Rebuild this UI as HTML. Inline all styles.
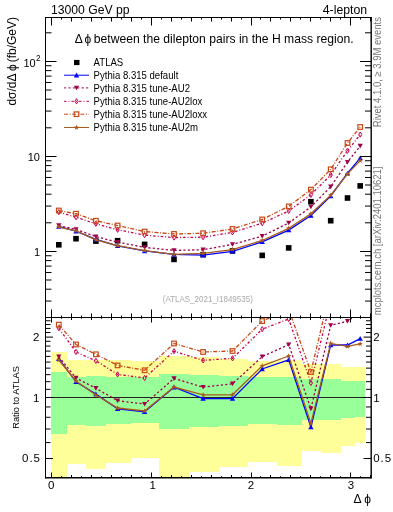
<!DOCTYPE html><html><head><meta charset="utf-8"><style>html,body{margin:0;padding:0;background:#fff;overflow:hidden}svg{display:block;will-change:transform}text{font-family:"Liberation Sans",sans-serif}</style></head><body>
<svg width="393" height="512" viewBox="0 0 393 512">
<defs><clipPath id="ct"><rect x="45.5" y="17.5" width="325" height="300"/></clipPath><clipPath id="cb"><rect x="45.5" y="317.5" width="325" height="160"/></clipPath></defs>
<g clip-path="url(#cb)" shape-rendering="crispEdges"><rect x="51.20" y="352.30" width="15.50" height="127.70" fill="#ffff99"/><rect x="66.70" y="360.20" width="19.50" height="103.60" fill="#ffff99"/><rect x="86.20" y="359.80" width="19.50" height="108.90" fill="#ffff99"/><rect x="105.70" y="360.20" width="24.90" height="102.50" fill="#ffff99"/><rect x="130.60" y="361.40" width="28.10" height="96.70" fill="#ffff99"/><rect x="158.70" y="355.70" width="30.50" height="124.30" fill="#ffff99"/><rect x="189.20" y="356.50" width="29.50" height="115.50" fill="#ffff99"/><rect x="218.70" y="358.70" width="29.30" height="108.10" fill="#ffff99"/><rect x="248.00" y="360.80" width="28.50" height="100.90" fill="#ffff99"/><rect x="276.50" y="359.50" width="25.50" height="106.30" fill="#ffff99"/><rect x="302.00" y="364.00" width="18.50" height="87.00" fill="#ffff99"/><rect x="320.50" y="364.00" width="20.20" height="88.50" fill="#ffff99"/><rect x="340.70" y="367.30" width="14.60" height="78.50" fill="#ffff99"/><rect x="355.30" y="367.30" width="9.90" height="75.80" fill="#ffff99"/><rect x="51.20" y="371.60" width="15.50" height="62.40" fill="#99ff99"/><rect x="66.70" y="376.60" width="19.50" height="48.80" fill="#99ff99"/><rect x="86.20" y="376.00" width="19.50" height="50.10" fill="#99ff99"/><rect x="105.70" y="377.00" width="24.90" height="47.30" fill="#99ff99"/><rect x="130.60" y="377.00" width="28.10" height="46.10" fill="#99ff99"/><rect x="158.70" y="374.00" width="30.50" height="55.20" fill="#99ff99"/><rect x="189.20" y="375.00" width="29.50" height="52.30" fill="#99ff99"/><rect x="218.70" y="376.00" width="29.30" height="49.50" fill="#99ff99"/><rect x="248.00" y="377.00" width="28.50" height="46.50" fill="#99ff99"/><rect x="276.50" y="377.40" width="25.50" height="47.50" fill="#99ff99"/><rect x="302.00" y="378.60" width="18.50" height="41.80" fill="#99ff99"/><rect x="320.50" y="378.60" width="20.20" height="40.90" fill="#99ff99"/><rect x="340.70" y="380.75" width="14.60" height="37.45" fill="#99ff99"/><rect x="355.30" y="380.75" width="9.90" height="36.55" fill="#99ff99"/></g>
<line x1="45" y1="397.5" x2="371" y2="397.5" stroke="#222" stroke-width="1"/>
<g clip-path="url(#ct)"><rect x="56.00" y="242.00" width="5.6" height="5.6" fill="#000"/><rect x="73.20" y="235.90" width="5.6" height="5.6" fill="#000"/><rect x="93.10" y="238.30" width="5.6" height="5.6" fill="#000"/><rect x="114.80" y="237.90" width="5.6" height="5.6" fill="#000"/><rect x="141.80" y="241.60" width="5.6" height="5.6" fill="#000"/><rect x="171.20" y="256.60" width="5.6" height="5.6" fill="#000"/><rect x="200.30" y="251.90" width="5.6" height="5.6" fill="#000"/><rect x="229.70" y="248.10" width="5.6" height="5.6" fill="#000"/><rect x="259.40" y="252.60" width="5.6" height="5.6" fill="#000"/><rect x="285.90" y="245.10" width="5.6" height="5.6" fill="#000"/><rect x="308.10" y="198.90" width="5.6" height="5.6" fill="#000"/><rect x="327.90" y="217.90" width="5.6" height="5.6" fill="#000"/><rect x="344.70" y="195.20" width="5.6" height="5.6" fill="#000"/><rect x="357.40" y="183.10" width="5.6" height="5.6" fill="#000"/><polyline points="58.80,226.49 76.00,231.23 95.90,239.36 117.60,245.91 144.60,250.97 174.00,254.47 203.10,255.12 232.50,251.32 262.20,241.92 288.70,230.10 310.90,215.51 330.70,195.95 347.50,173.25 360.20,158.15" fill="none" stroke="#0000ff" stroke-width="1.3"/><path d="M56.10 228.69L58.80 223.89L61.50 228.69Z" fill="#0000ff"/><path d="M73.30 233.43L76.00 228.63L78.70 233.43Z" fill="#0000ff"/><path d="M93.20 241.56L95.90 236.76L98.60 241.56Z" fill="#0000ff"/><path d="M114.90 248.11L117.60 243.31L120.30 248.11Z" fill="#0000ff"/><path d="M141.90 253.17L144.60 248.37L147.30 253.17Z" fill="#0000ff"/><path d="M171.30 256.67L174.00 251.87L176.70 256.67Z" fill="#0000ff"/><path d="M200.40 257.32L203.10 252.52L205.80 257.32Z" fill="#0000ff"/><path d="M229.80 253.52L232.50 248.72L235.20 253.52Z" fill="#0000ff"/><path d="M259.50 244.12L262.20 239.32L264.90 244.12Z" fill="#0000ff"/><path d="M286.00 232.30L288.70 227.50L291.40 232.30Z" fill="#0000ff"/><path d="M308.20 217.71L310.90 212.91L313.60 217.71Z" fill="#0000ff"/><path d="M328.00 198.15L330.70 193.35L333.40 198.15Z" fill="#0000ff"/><path d="M344.80 175.45L347.50 170.65L350.20 175.45Z" fill="#0000ff"/><path d="M357.50 160.35L360.20 155.55L362.90 160.35Z" fill="#0000ff"/><polyline points="58.80,225.55 76.00,229.45 95.90,236.69 117.60,242.11 144.60,247.41 174.00,250.38 203.10,249.77 232.50,244.37 262.20,236.15 288.70,222.96 310.90,206.91 330.70,186.75 347.50,162.08 360.20,146.00" fill="none" stroke="#a0004a" stroke-width="1.3" stroke-dasharray="2.2 2.2"/><path d="M56.20 223.35L58.80 227.95L61.40 223.35Z" fill="#a0004a"/><path d="M73.40 227.25L76.00 231.85L78.60 227.25Z" fill="#a0004a"/><path d="M93.30 234.49L95.90 239.09L98.50 234.49Z" fill="#a0004a"/><path d="M115.00 239.91L117.60 244.51L120.20 239.91Z" fill="#a0004a"/><path d="M142.00 245.21L144.60 249.81L147.20 245.21Z" fill="#a0004a"/><path d="M171.40 248.18L174.00 252.78L176.60 248.18Z" fill="#a0004a"/><path d="M200.50 247.57L203.10 252.17L205.70 247.57Z" fill="#a0004a"/><path d="M229.90 242.17L232.50 246.77L235.10 242.17Z" fill="#a0004a"/><path d="M259.60 233.95L262.20 238.55L264.80 233.95Z" fill="#a0004a"/><path d="M286.10 220.76L288.70 225.36L291.30 220.76Z" fill="#a0004a"/><path d="M308.30 204.71L310.90 209.31L313.50 204.71Z" fill="#a0004a"/><path d="M328.10 184.55L330.70 189.15L333.30 184.55Z" fill="#a0004a"/><path d="M344.90 159.88L347.50 164.48L350.10 159.88Z" fill="#a0004a"/><path d="M357.60 143.80L360.20 148.40L362.80 143.80Z" fill="#a0004a"/><polyline points="58.80,212.16 76.00,217.24 95.90,223.77 117.60,229.76 144.60,235.15 174.00,237.56 203.10,237.18 232.50,232.40 262.20,223.23 288.70,210.94 310.90,194.80 330.70,175.00 347.50,150.80 360.20,134.60" fill="none" stroke="#c80050" stroke-width="1.3" stroke-dasharray="2.5 2 1 2"/><path d="M58.80 209.56L60.40 212.16L58.80 214.76L57.20 212.16Z" fill="none" stroke="#c80050" stroke-width="1.0"/><path d="M76.00 214.64L77.60 217.24L76.00 219.84L74.40 217.24Z" fill="none" stroke="#c80050" stroke-width="1.0"/><path d="M95.90 221.17L97.50 223.77L95.90 226.37L94.30 223.77Z" fill="none" stroke="#c80050" stroke-width="1.0"/><path d="M117.60 227.16L119.20 229.76L117.60 232.36L116.00 229.76Z" fill="none" stroke="#c80050" stroke-width="1.0"/><path d="M144.60 232.55L146.20 235.15L144.60 237.75L143.00 235.15Z" fill="none" stroke="#c80050" stroke-width="1.0"/><path d="M174.00 234.96L175.60 237.56L174.00 240.16L172.40 237.56Z" fill="none" stroke="#c80050" stroke-width="1.0"/><path d="M203.10 234.58L204.70 237.18L203.10 239.78L201.50 237.18Z" fill="none" stroke="#c80050" stroke-width="1.0"/><path d="M232.50 229.80L234.10 232.40L232.50 235.00L230.90 232.40Z" fill="none" stroke="#c80050" stroke-width="1.0"/><path d="M262.20 220.63L263.80 223.23L262.20 225.83L260.60 223.23Z" fill="none" stroke="#c80050" stroke-width="1.0"/><path d="M288.70 208.34L290.30 210.94L288.70 213.54L287.10 210.94Z" fill="none" stroke="#c80050" stroke-width="1.0"/><path d="M310.90 192.20L312.50 194.80L310.90 197.40L309.30 194.80Z" fill="none" stroke="#c80050" stroke-width="1.0"/><path d="M330.70 172.40L332.30 175.00L330.70 177.60L329.10 175.00Z" fill="none" stroke="#c80050" stroke-width="1.0"/><path d="M347.50 148.20L349.10 150.80L347.50 153.40L345.90 150.80Z" fill="none" stroke="#c80050" stroke-width="1.0"/><path d="M360.20 132.00L361.80 134.60L360.20 137.20L358.60 134.60Z" fill="none" stroke="#c80050" stroke-width="1.0"/><polyline points="58.80,210.52 76.00,213.72 95.90,220.72 117.60,225.53 144.60,231.53 174.00,233.95 203.10,233.24 232.50,228.97 262.20,219.43 288.70,206.40 310.90,189.63 330.70,169.30 347.50,143.00 360.20,127.00" fill="none" stroke="#c84816" stroke-width="1.3" stroke-dasharray="4 1.6 1 1.6"/><rect x="56.50" y="208.22" width="4.6" height="4.6" fill="none" stroke="#c84816" stroke-width="1.2"/><rect x="73.70" y="211.42" width="4.6" height="4.6" fill="none" stroke="#c84816" stroke-width="1.2"/><rect x="93.60" y="218.42" width="4.6" height="4.6" fill="none" stroke="#c84816" stroke-width="1.2"/><rect x="115.30" y="223.23" width="4.6" height="4.6" fill="none" stroke="#c84816" stroke-width="1.2"/><rect x="142.30" y="229.23" width="4.6" height="4.6" fill="none" stroke="#c84816" stroke-width="1.2"/><rect x="171.70" y="231.65" width="4.6" height="4.6" fill="none" stroke="#c84816" stroke-width="1.2"/><rect x="200.80" y="230.94" width="4.6" height="4.6" fill="none" stroke="#c84816" stroke-width="1.2"/><rect x="230.20" y="226.67" width="4.6" height="4.6" fill="none" stroke="#c84816" stroke-width="1.2"/><rect x="259.90" y="217.13" width="4.6" height="4.6" fill="none" stroke="#c84816" stroke-width="1.2"/><rect x="286.40" y="204.10" width="4.6" height="4.6" fill="none" stroke="#c84816" stroke-width="1.2"/><rect x="308.60" y="187.33" width="4.6" height="4.6" fill="none" stroke="#c84816" stroke-width="1.2"/><rect x="328.40" y="167.00" width="4.6" height="4.6" fill="none" stroke="#c84816" stroke-width="1.2"/><rect x="345.20" y="140.70" width="4.6" height="4.6" fill="none" stroke="#c84816" stroke-width="1.2"/><rect x="357.90" y="124.70" width="4.6" height="4.6" fill="none" stroke="#c84816" stroke-width="1.2"/><polyline points="58.80,227.10 76.00,230.86 95.90,239.83 117.60,245.54 144.60,250.65 174.00,254.38 203.10,253.34 232.50,249.54 262.20,240.47 288.70,228.32 310.90,213.82 330.70,195.20 347.50,173.91 360.20,160.64" fill="none" stroke="#a85c1c" stroke-width="1.3"/><path d="M58.80 224.30L59.51 226.13L61.46 226.23L59.94 227.47L60.45 229.36L58.80 228.30L57.15 229.36L57.66 227.47L56.14 226.23L58.09 226.13Z" fill="#a85c1c"/><path d="M76.00 228.06L76.71 229.89L78.66 229.99L77.14 231.23L77.65 233.12L76.00 232.06L74.35 233.12L74.86 231.23L73.34 229.99L75.29 229.89Z" fill="#a85c1c"/><path d="M95.90 237.03L96.61 238.86L98.56 238.97L97.04 240.20L97.55 242.10L95.90 241.03L94.25 242.10L94.76 240.20L93.24 238.97L95.19 238.86Z" fill="#a85c1c"/><path d="M117.60 242.74L118.31 244.57L120.26 244.67L118.74 245.91L119.25 247.80L117.60 246.74L115.95 247.80L116.46 245.91L114.94 244.67L116.89 244.57Z" fill="#a85c1c"/><path d="M144.60 247.85L145.31 249.67L147.26 249.78L145.74 251.02L146.25 252.91L144.60 251.85L142.95 252.91L143.46 251.02L141.94 249.78L143.89 249.67Z" fill="#a85c1c"/><path d="M174.00 251.58L174.71 253.40L176.66 253.51L175.14 254.75L175.65 256.64L174.00 255.58L172.35 256.64L172.86 254.75L171.34 253.51L173.29 253.40Z" fill="#a85c1c"/><path d="M203.10 250.54L203.81 252.37L205.76 252.47L204.24 253.71L204.75 255.60L203.10 254.54L201.45 255.60L201.96 253.71L200.44 252.47L202.39 252.37Z" fill="#a85c1c"/><path d="M232.50 246.74L233.21 248.57L235.16 248.67L233.64 249.91L234.15 251.80L232.50 250.74L230.85 251.80L231.36 249.91L229.84 248.67L231.79 248.57Z" fill="#a85c1c"/><path d="M262.20 237.67L262.91 239.50L264.86 239.60L263.34 240.84L263.85 242.73L262.20 241.67L260.55 242.73L261.06 240.84L259.54 239.60L261.49 239.50Z" fill="#a85c1c"/><path d="M288.70 225.52L289.41 227.35L291.36 227.45L289.84 228.69L290.35 230.58L288.70 229.52L287.05 230.58L287.56 228.69L286.04 227.45L287.99 227.35Z" fill="#a85c1c"/><path d="M310.90 211.02L311.61 212.84L313.56 212.95L312.04 214.19L312.55 216.08L310.90 215.02L309.25 216.08L309.76 214.19L308.24 212.95L310.19 212.84Z" fill="#a85c1c"/><path d="M330.70 192.40L331.41 194.23L333.36 194.34L331.84 195.57L332.35 197.47L330.70 196.40L329.05 197.47L329.56 195.57L328.04 194.34L329.99 194.23Z" fill="#a85c1c"/><path d="M347.50 171.11L348.21 172.94L350.16 173.04L348.64 174.28L349.15 176.18L347.50 175.11L345.85 176.18L346.36 174.28L344.84 173.04L346.79 172.94Z" fill="#a85c1c"/><path d="M360.20 157.84L360.91 159.67L362.86 159.77L361.34 161.01L361.85 162.90L360.20 161.84L358.55 162.90L359.06 161.01L357.54 159.77L359.49 159.67Z" fill="#a85c1c"/></g>
<g clip-path="url(#cb)"><polyline points="58.80,358.70 76.00,381.80 95.90,394.00 117.60,408.80 144.60,411.70 174.00,387.20 203.10,398.60 232.50,398.60 262.20,369.00 288.70,359.80 310.90,427.10 330.70,345.00 347.50,345.00 360.20,338.60" fill="none" stroke="#0000ff" stroke-width="1.3"/><path d="M56.10 360.90L58.80 356.10L61.50 360.90Z" fill="#0000ff"/><path d="M73.30 384.00L76.00 379.20L78.70 384.00Z" fill="#0000ff"/><path d="M93.20 396.20L95.90 391.40L98.60 396.20Z" fill="#0000ff"/><path d="M114.90 411.00L117.60 406.20L120.30 411.00Z" fill="#0000ff"/><path d="M141.90 413.90L144.60 409.10L147.30 413.90Z" fill="#0000ff"/><path d="M171.30 389.40L174.00 384.60L176.70 389.40Z" fill="#0000ff"/><path d="M200.40 400.80L203.10 396.00L205.80 400.80Z" fill="#0000ff"/><path d="M229.80 400.80L232.50 396.00L235.20 400.80Z" fill="#0000ff"/><path d="M259.50 371.20L262.20 366.40L264.90 371.20Z" fill="#0000ff"/><path d="M286.00 362.00L288.70 357.20L291.40 362.00Z" fill="#0000ff"/><path d="M308.20 429.30L310.90 424.50L313.60 429.30Z" fill="#0000ff"/><path d="M328.00 347.20L330.70 342.40L333.40 347.20Z" fill="#0000ff"/><path d="M344.80 347.20L347.50 342.40L350.20 347.20Z" fill="#0000ff"/><path d="M357.50 340.80L360.20 336.00L362.90 340.80Z" fill="#0000ff"/><polyline points="58.80,356.70 76.00,378.00 95.90,388.30 117.60,400.70 144.60,404.10 174.00,378.50 203.10,387.20 232.50,383.80 262.20,356.70 288.70,344.60 310.90,408.80 330.70,325.40 347.50,321.20 360.20,312.73" fill="none" stroke="#a0004a" stroke-width="1.3" stroke-dasharray="2.2 2.2"/><path d="M56.20 354.50L58.80 359.10L61.40 354.50Z" fill="#a0004a"/><path d="M73.40 375.80L76.00 380.40L78.60 375.80Z" fill="#a0004a"/><path d="M93.30 386.10L95.90 390.70L98.50 386.10Z" fill="#a0004a"/><path d="M115.00 398.50L117.60 403.10L120.20 398.50Z" fill="#a0004a"/><path d="M142.00 401.90L144.60 406.50L147.20 401.90Z" fill="#a0004a"/><path d="M171.40 376.30L174.00 380.90L176.60 376.30Z" fill="#a0004a"/><path d="M200.50 385.00L203.10 389.60L205.70 385.00Z" fill="#a0004a"/><path d="M229.90 381.60L232.50 386.20L235.10 381.60Z" fill="#a0004a"/><path d="M259.60 354.50L262.20 359.10L264.80 354.50Z" fill="#a0004a"/><path d="M286.10 342.40L288.70 347.00L291.30 342.40Z" fill="#a0004a"/><path d="M308.30 406.60L310.90 411.20L313.50 406.60Z" fill="#a0004a"/><path d="M328.10 323.20L330.70 327.80L333.30 323.20Z" fill="#a0004a"/><path d="M344.90 319.00L347.50 323.60L350.10 319.00Z" fill="#a0004a"/><path d="M357.60 310.53L360.20 315.13L362.80 310.53Z" fill="#a0004a"/><polyline points="58.80,328.20 76.00,352.00 95.90,360.80 117.60,374.40 144.60,378.00 174.00,351.20 203.10,360.40 232.50,358.30 262.20,329.20 288.70,319.00 310.90,383.00 330.70,300.38 347.50,297.19 360.20,288.46" fill="none" stroke="#c80050" stroke-width="1.3" stroke-dasharray="2.5 2 1 2"/><path d="M58.80 325.60L60.40 328.20L58.80 330.80L57.20 328.20Z" fill="none" stroke="#c80050" stroke-width="1.0"/><path d="M76.00 349.40L77.60 352.00L76.00 354.60L74.40 352.00Z" fill="none" stroke="#c80050" stroke-width="1.0"/><path d="M95.90 358.20L97.50 360.80L95.90 363.40L94.30 360.80Z" fill="none" stroke="#c80050" stroke-width="1.0"/><path d="M117.60 371.80L119.20 374.40L117.60 377.00L116.00 374.40Z" fill="none" stroke="#c80050" stroke-width="1.0"/><path d="M144.60 375.40L146.20 378.00L144.60 380.60L143.00 378.00Z" fill="none" stroke="#c80050" stroke-width="1.0"/><path d="M174.00 348.60L175.60 351.20L174.00 353.80L172.40 351.20Z" fill="none" stroke="#c80050" stroke-width="1.0"/><path d="M203.10 357.80L204.70 360.40L203.10 363.00L201.50 360.40Z" fill="none" stroke="#c80050" stroke-width="1.0"/><path d="M232.50 355.70L234.10 358.30L232.50 360.90L230.90 358.30Z" fill="none" stroke="#c80050" stroke-width="1.0"/><path d="M262.20 326.60L263.80 329.20L262.20 331.80L260.60 329.20Z" fill="none" stroke="#c80050" stroke-width="1.0"/><path d="M288.70 316.40L290.30 319.00L288.70 321.60L287.10 319.00Z" fill="none" stroke="#c80050" stroke-width="1.0"/><path d="M310.90 380.40L312.50 383.00L310.90 385.60L309.30 383.00Z" fill="none" stroke="#c80050" stroke-width="1.0"/><path d="M330.70 297.78L332.30 300.38L330.70 302.98L329.10 300.38Z" fill="none" stroke="#c80050" stroke-width="1.0"/><path d="M347.50 294.59L349.10 297.19L347.50 299.79L345.90 297.19Z" fill="none" stroke="#c80050" stroke-width="1.0"/><path d="M360.20 285.86L361.80 288.46L360.20 291.06L358.60 288.46Z" fill="none" stroke="#c80050" stroke-width="1.0"/><polyline points="58.80,324.70 76.00,344.50 95.90,354.30 117.60,365.40 144.60,370.30 174.00,343.50 203.10,352.00 232.50,351.00 262.20,321.10 288.70,309.32 310.90,372.00 330.70,288.24 347.50,280.58 360.20,272.27" fill="none" stroke="#c84816" stroke-width="1.3" stroke-dasharray="4 1.6 1 1.6"/><rect x="56.50" y="322.40" width="4.6" height="4.6" fill="none" stroke="#c84816" stroke-width="1.2"/><rect x="73.70" y="342.20" width="4.6" height="4.6" fill="none" stroke="#c84816" stroke-width="1.2"/><rect x="93.60" y="352.00" width="4.6" height="4.6" fill="none" stroke="#c84816" stroke-width="1.2"/><rect x="115.30" y="363.10" width="4.6" height="4.6" fill="none" stroke="#c84816" stroke-width="1.2"/><rect x="142.30" y="368.00" width="4.6" height="4.6" fill="none" stroke="#c84816" stroke-width="1.2"/><rect x="171.70" y="341.20" width="4.6" height="4.6" fill="none" stroke="#c84816" stroke-width="1.2"/><rect x="200.80" y="349.70" width="4.6" height="4.6" fill="none" stroke="#c84816" stroke-width="1.2"/><rect x="230.20" y="348.70" width="4.6" height="4.6" fill="none" stroke="#c84816" stroke-width="1.2"/><rect x="259.90" y="318.80" width="4.6" height="4.6" fill="none" stroke="#c84816" stroke-width="1.2"/><rect x="286.40" y="307.02" width="4.6" height="4.6" fill="none" stroke="#c84816" stroke-width="1.2"/><rect x="308.60" y="369.70" width="4.6" height="4.6" fill="none" stroke="#c84816" stroke-width="1.2"/><rect x="328.40" y="285.94" width="4.6" height="4.6" fill="none" stroke="#c84816" stroke-width="1.2"/><rect x="345.20" y="278.28" width="4.6" height="4.6" fill="none" stroke="#c84816" stroke-width="1.2"/><rect x="357.90" y="269.97" width="4.6" height="4.6" fill="none" stroke="#c84816" stroke-width="1.2"/><polyline points="58.80,360.00 76.00,381.00 95.90,395.00 117.60,408.00 144.60,411.00 174.00,387.00 203.10,394.80 232.50,394.80 262.20,365.90 288.70,356.00 310.90,423.50 330.70,343.40 347.50,346.40 360.20,343.90" fill="none" stroke="#a85c1c" stroke-width="1.3"/><path d="M58.80 357.20L59.51 359.03L61.46 359.13L59.94 360.37L60.45 362.27L58.80 361.20L57.15 362.27L57.66 360.37L56.14 359.13L58.09 359.03Z" fill="#a85c1c"/><path d="M76.00 378.20L76.71 380.03L78.66 380.13L77.14 381.37L77.65 383.27L76.00 382.20L74.35 383.27L74.86 381.37L73.34 380.13L75.29 380.03Z" fill="#a85c1c"/><path d="M95.90 392.20L96.61 394.03L98.56 394.13L97.04 395.37L97.55 397.27L95.90 396.20L94.25 397.27L94.76 395.37L93.24 394.13L95.19 394.03Z" fill="#a85c1c"/><path d="M117.60 405.20L118.31 407.03L120.26 407.13L118.74 408.37L119.25 410.27L117.60 409.20L115.95 410.27L116.46 408.37L114.94 407.13L116.89 407.03Z" fill="#a85c1c"/><path d="M144.60 408.20L145.31 410.03L147.26 410.13L145.74 411.37L146.25 413.27L144.60 412.20L142.95 413.27L143.46 411.37L141.94 410.13L143.89 410.03Z" fill="#a85c1c"/><path d="M174.00 384.20L174.71 386.03L176.66 386.13L175.14 387.37L175.65 389.27L174.00 388.20L172.35 389.27L172.86 387.37L171.34 386.13L173.29 386.03Z" fill="#a85c1c"/><path d="M203.10 392.00L203.81 393.83L205.76 393.93L204.24 395.17L204.75 397.07L203.10 396.00L201.45 397.07L201.96 395.17L200.44 393.93L202.39 393.83Z" fill="#a85c1c"/><path d="M232.50 392.00L233.21 393.83L235.16 393.93L233.64 395.17L234.15 397.07L232.50 396.00L230.85 397.07L231.36 395.17L229.84 393.93L231.79 393.83Z" fill="#a85c1c"/><path d="M262.20 363.10L262.91 364.93L264.86 365.03L263.34 366.27L263.85 368.17L262.20 367.10L260.55 368.17L261.06 366.27L259.54 365.03L261.49 364.93Z" fill="#a85c1c"/><path d="M288.70 353.20L289.41 355.03L291.36 355.13L289.84 356.37L290.35 358.27L288.70 357.20L287.05 358.27L287.56 356.37L286.04 355.13L287.99 355.03Z" fill="#a85c1c"/><path d="M310.90 420.70L311.61 422.53L313.56 422.63L312.04 423.87L312.55 425.77L310.90 424.70L309.25 425.77L309.76 423.87L308.24 422.63L310.19 422.53Z" fill="#a85c1c"/><path d="M330.70 340.60L331.41 342.43L333.36 342.53L331.84 343.77L332.35 345.67L330.70 344.60L329.05 345.67L329.56 343.77L328.04 342.53L329.99 342.43Z" fill="#a85c1c"/><path d="M347.50 343.60L348.21 345.43L350.16 345.53L348.64 346.77L349.15 348.67L347.50 347.60L345.85 348.67L346.36 346.77L344.84 345.53L346.79 345.43Z" fill="#a85c1c"/><path d="M360.20 341.10L360.91 342.93L362.86 343.03L361.34 344.27L361.85 346.17L360.20 345.10L358.55 346.17L359.06 344.27L357.54 343.03L359.49 342.93Z" fill="#a85c1c"/></g>
<g stroke="#000" stroke-width="1" fill="none"><line x1="45" y1="17.5" x2="371.9" y2="17.5"/><line x1="45" y1="317.5" x2="371.9" y2="317.5"/><line x1="45.5" y1="17" x2="45.5" y2="318"/><line x1="371.2" y1="17" x2="371.2" y2="318" stroke-width="1.4"/><line x1="45.5" y1="317" x2="45.5" y2="478.5"/><line x1="371.2" y1="317" x2="371.2" y2="478.5" stroke-width="1.4"/><line x1="45" y1="477.8" x2="371.5" y2="477.8" stroke-width="1.5"/><line x1="51.50" y1="17.5" x2="51.50" y2="25.5" /><line x1="51.50" y1="317.5" x2="51.50" y2="309.5" /><line x1="51.50" y1="317.5" x2="51.50" y2="322.5" /><line x1="51.50" y1="477.5" x2="51.50" y2="472.5" /><line x1="61.50" y1="17.5" x2="61.50" y2="19.5" /><line x1="61.50" y1="317.5" x2="61.50" y2="315.5" /><line x1="61.50" y1="317.5" x2="61.50" y2="318.8" /><line x1="61.50" y1="477.5" x2="61.50" y2="476.2" /><line x1="71.50" y1="17.5" x2="71.50" y2="21.5" /><line x1="71.50" y1="317.5" x2="71.50" y2="313.5" /><line x1="71.50" y1="317.5" x2="71.50" y2="320.0" /><line x1="71.50" y1="477.5" x2="71.50" y2="475.0" /><line x1="81.50" y1="17.5" x2="81.50" y2="19.5" /><line x1="81.50" y1="317.5" x2="81.50" y2="315.5" /><line x1="81.50" y1="317.5" x2="81.50" y2="318.8" /><line x1="81.50" y1="477.5" x2="81.50" y2="476.2" /><line x1="91.50" y1="17.5" x2="91.50" y2="21.5" /><line x1="91.50" y1="317.5" x2="91.50" y2="313.5" /><line x1="91.50" y1="317.5" x2="91.50" y2="320.0" /><line x1="91.50" y1="477.5" x2="91.50" y2="475.0" /><line x1="101.50" y1="17.5" x2="101.50" y2="19.5" /><line x1="101.50" y1="317.5" x2="101.50" y2="315.5" /><line x1="101.50" y1="317.5" x2="101.50" y2="318.8" /><line x1="101.50" y1="477.5" x2="101.50" y2="476.2" /><line x1="111.50" y1="17.5" x2="111.50" y2="21.5" /><line x1="111.50" y1="317.5" x2="111.50" y2="313.5" /><line x1="111.50" y1="317.5" x2="111.50" y2="320.0" /><line x1="111.50" y1="477.5" x2="111.50" y2="475.0" /><line x1="121.50" y1="17.5" x2="121.50" y2="19.5" /><line x1="121.50" y1="317.5" x2="121.50" y2="315.5" /><line x1="121.50" y1="317.5" x2="121.50" y2="318.8" /><line x1="121.50" y1="477.5" x2="121.50" y2="476.2" /><line x1="131.50" y1="17.5" x2="131.50" y2="21.5" /><line x1="131.50" y1="317.5" x2="131.50" y2="313.5" /><line x1="131.50" y1="317.5" x2="131.50" y2="320.0" /><line x1="131.50" y1="477.5" x2="131.50" y2="475.0" /><line x1="141.50" y1="17.5" x2="141.50" y2="19.5" /><line x1="141.50" y1="317.5" x2="141.50" y2="315.5" /><line x1="141.50" y1="317.5" x2="141.50" y2="318.8" /><line x1="141.50" y1="477.5" x2="141.50" y2="476.2" /><line x1="151.50" y1="17.5" x2="151.50" y2="25.5" /><line x1="151.50" y1="317.5" x2="151.50" y2="309.5" /><line x1="151.50" y1="317.5" x2="151.50" y2="322.5" /><line x1="151.50" y1="477.5" x2="151.50" y2="472.5" /><line x1="161.50" y1="17.5" x2="161.50" y2="19.5" /><line x1="161.50" y1="317.5" x2="161.50" y2="315.5" /><line x1="161.50" y1="317.5" x2="161.50" y2="318.8" /><line x1="161.50" y1="477.5" x2="161.50" y2="476.2" /><line x1="171.50" y1="17.5" x2="171.50" y2="21.5" /><line x1="171.50" y1="317.5" x2="171.50" y2="313.5" /><line x1="171.50" y1="317.5" x2="171.50" y2="320.0" /><line x1="171.50" y1="477.5" x2="171.50" y2="475.0" /><line x1="181.50" y1="17.5" x2="181.50" y2="19.5" /><line x1="181.50" y1="317.5" x2="181.50" y2="315.5" /><line x1="181.50" y1="317.5" x2="181.50" y2="318.8" /><line x1="181.50" y1="477.5" x2="181.50" y2="476.2" /><line x1="191.50" y1="17.5" x2="191.50" y2="21.5" /><line x1="191.50" y1="317.5" x2="191.50" y2="313.5" /><line x1="191.50" y1="317.5" x2="191.50" y2="320.0" /><line x1="191.50" y1="477.5" x2="191.50" y2="475.0" /><line x1="201.50" y1="17.5" x2="201.50" y2="19.5" /><line x1="201.50" y1="317.5" x2="201.50" y2="315.5" /><line x1="201.50" y1="317.5" x2="201.50" y2="318.8" /><line x1="201.50" y1="477.5" x2="201.50" y2="476.2" /><line x1="211.50" y1="17.5" x2="211.50" y2="21.5" /><line x1="211.50" y1="317.5" x2="211.50" y2="313.5" /><line x1="211.50" y1="317.5" x2="211.50" y2="320.0" /><line x1="211.50" y1="477.5" x2="211.50" y2="475.0" /><line x1="221.50" y1="17.5" x2="221.50" y2="19.5" /><line x1="221.50" y1="317.5" x2="221.50" y2="315.5" /><line x1="221.50" y1="317.5" x2="221.50" y2="318.8" /><line x1="221.50" y1="477.5" x2="221.50" y2="476.2" /><line x1="231.50" y1="17.5" x2="231.50" y2="21.5" /><line x1="231.50" y1="317.5" x2="231.50" y2="313.5" /><line x1="231.50" y1="317.5" x2="231.50" y2="320.0" /><line x1="231.50" y1="477.5" x2="231.50" y2="475.0" /><line x1="241.50" y1="17.5" x2="241.50" y2="19.5" /><line x1="241.50" y1="317.5" x2="241.50" y2="315.5" /><line x1="241.50" y1="317.5" x2="241.50" y2="318.8" /><line x1="241.50" y1="477.5" x2="241.50" y2="476.2" /><line x1="251.50" y1="17.5" x2="251.50" y2="25.5" /><line x1="251.50" y1="317.5" x2="251.50" y2="309.5" /><line x1="251.50" y1="317.5" x2="251.50" y2="322.5" /><line x1="251.50" y1="477.5" x2="251.50" y2="472.5" /><line x1="260.50" y1="17.5" x2="260.50" y2="19.5" /><line x1="260.50" y1="317.5" x2="260.50" y2="315.5" /><line x1="260.50" y1="317.5" x2="260.50" y2="318.8" /><line x1="260.50" y1="477.5" x2="260.50" y2="476.2" /><line x1="270.50" y1="17.5" x2="270.50" y2="21.5" /><line x1="270.50" y1="317.5" x2="270.50" y2="313.5" /><line x1="270.50" y1="317.5" x2="270.50" y2="320.0" /><line x1="270.50" y1="477.5" x2="270.50" y2="475.0" /><line x1="280.50" y1="17.5" x2="280.50" y2="19.5" /><line x1="280.50" y1="317.5" x2="280.50" y2="315.5" /><line x1="280.50" y1="317.5" x2="280.50" y2="318.8" /><line x1="280.50" y1="477.5" x2="280.50" y2="476.2" /><line x1="290.50" y1="17.5" x2="290.50" y2="21.5" /><line x1="290.50" y1="317.5" x2="290.50" y2="313.5" /><line x1="290.50" y1="317.5" x2="290.50" y2="320.0" /><line x1="290.50" y1="477.5" x2="290.50" y2="475.0" /><line x1="300.50" y1="17.5" x2="300.50" y2="19.5" /><line x1="300.50" y1="317.5" x2="300.50" y2="315.5" /><line x1="300.50" y1="317.5" x2="300.50" y2="318.8" /><line x1="300.50" y1="477.5" x2="300.50" y2="476.2" /><line x1="310.50" y1="17.5" x2="310.50" y2="21.5" /><line x1="310.50" y1="317.5" x2="310.50" y2="313.5" /><line x1="310.50" y1="317.5" x2="310.50" y2="320.0" /><line x1="310.50" y1="477.5" x2="310.50" y2="475.0" /><line x1="320.50" y1="17.5" x2="320.50" y2="19.5" /><line x1="320.50" y1="317.5" x2="320.50" y2="315.5" /><line x1="320.50" y1="317.5" x2="320.50" y2="318.8" /><line x1="320.50" y1="477.5" x2="320.50" y2="476.2" /><line x1="330.50" y1="17.5" x2="330.50" y2="21.5" /><line x1="330.50" y1="317.5" x2="330.50" y2="313.5" /><line x1="330.50" y1="317.5" x2="330.50" y2="320.0" /><line x1="330.50" y1="477.5" x2="330.50" y2="475.0" /><line x1="340.50" y1="17.5" x2="340.50" y2="19.5" /><line x1="340.50" y1="317.5" x2="340.50" y2="315.5" /><line x1="340.50" y1="317.5" x2="340.50" y2="318.8" /><line x1="340.50" y1="477.5" x2="340.50" y2="476.2" /><line x1="350.50" y1="17.5" x2="350.50" y2="25.5" /><line x1="350.50" y1="317.5" x2="350.50" y2="309.5" /><line x1="350.50" y1="317.5" x2="350.50" y2="322.5" /><line x1="350.50" y1="477.5" x2="350.50" y2="472.5" /><line x1="360.50" y1="17.5" x2="360.50" y2="19.5" /><line x1="360.50" y1="317.5" x2="360.50" y2="315.5" /><line x1="360.50" y1="317.5" x2="360.50" y2="318.8" /><line x1="360.50" y1="477.5" x2="360.50" y2="476.2" /><line x1="370.50" y1="17.5" x2="370.50" y2="21.5" /><line x1="370.50" y1="317.5" x2="370.50" y2="313.5" /><line x1="370.50" y1="317.5" x2="370.50" y2="320.0" /><line x1="370.50" y1="477.5" x2="370.50" y2="475.0" /><line x1="45.5" y1="301.07" x2="51.5" y2="301.07"/><line x1="371" y1="301.07" x2="365" y2="301.07"/><line x1="45.5" y1="289.20" x2="51.5" y2="289.20"/><line x1="371" y1="289.20" x2="365" y2="289.20"/><line x1="45.5" y1="280.00" x2="51.5" y2="280.00"/><line x1="371" y1="280.00" x2="365" y2="280.00"/><line x1="45.5" y1="272.48" x2="51.5" y2="272.48"/><line x1="371" y1="272.48" x2="365" y2="272.48"/><line x1="45.5" y1="266.12" x2="51.5" y2="266.12"/><line x1="371" y1="266.12" x2="365" y2="266.12"/><line x1="45.5" y1="260.61" x2="51.5" y2="260.61"/><line x1="371" y1="260.61" x2="365" y2="260.61"/><line x1="45.5" y1="255.75" x2="51.5" y2="255.75"/><line x1="371" y1="255.75" x2="365" y2="255.75"/><line x1="45.5" y1="251.50" x2="56.5" y2="251.50"/><line x1="371" y1="251.50" x2="360" y2="251.50"/><line x1="45.5" y1="222.80" x2="51.5" y2="222.80"/><line x1="371" y1="222.80" x2="365" y2="222.80"/><line x1="45.5" y1="206.07" x2="51.5" y2="206.07"/><line x1="371" y1="206.07" x2="365" y2="206.07"/><line x1="45.5" y1="194.20" x2="51.5" y2="194.20"/><line x1="371" y1="194.20" x2="365" y2="194.20"/><line x1="45.5" y1="185.00" x2="51.5" y2="185.00"/><line x1="371" y1="185.00" x2="365" y2="185.00"/><line x1="45.5" y1="177.48" x2="51.5" y2="177.48"/><line x1="371" y1="177.48" x2="365" y2="177.48"/><line x1="45.5" y1="171.12" x2="51.5" y2="171.12"/><line x1="371" y1="171.12" x2="365" y2="171.12"/><line x1="45.5" y1="165.61" x2="51.5" y2="165.61"/><line x1="371" y1="165.61" x2="365" y2="165.61"/><line x1="45.5" y1="160.75" x2="51.5" y2="160.75"/><line x1="371" y1="160.75" x2="365" y2="160.75"/><line x1="45.5" y1="156.50" x2="56.5" y2="156.50"/><line x1="371" y1="156.50" x2="360" y2="156.50"/><line x1="45.5" y1="127.80" x2="51.5" y2="127.80"/><line x1="371" y1="127.80" x2="365" y2="127.80"/><line x1="45.5" y1="111.07" x2="51.5" y2="111.07"/><line x1="371" y1="111.07" x2="365" y2="111.07"/><line x1="45.5" y1="99.20" x2="51.5" y2="99.20"/><line x1="371" y1="99.20" x2="365" y2="99.20"/><line x1="45.5" y1="90.00" x2="51.5" y2="90.00"/><line x1="371" y1="90.00" x2="365" y2="90.00"/><line x1="45.5" y1="82.48" x2="51.5" y2="82.48"/><line x1="371" y1="82.48" x2="365" y2="82.48"/><line x1="45.5" y1="76.12" x2="51.5" y2="76.12"/><line x1="371" y1="76.12" x2="365" y2="76.12"/><line x1="45.5" y1="70.61" x2="51.5" y2="70.61"/><line x1="371" y1="70.61" x2="365" y2="70.61"/><line x1="45.5" y1="65.75" x2="51.5" y2="65.75"/><line x1="371" y1="65.75" x2="365" y2="65.75"/><line x1="45.5" y1="61.50" x2="56.5" y2="61.50"/><line x1="371" y1="61.50" x2="360" y2="61.50"/><line x1="45.5" y1="32.80" x2="51.5" y2="32.80"/><line x1="371" y1="32.80" x2="365" y2="32.80"/><line x1="45.5" y1="458.50" x2="53.0" y2="458.50"/><line x1="371" y1="458.50" x2="363.5" y2="458.50"/><line x1="45.5" y1="442.58" x2="50.5" y2="442.58"/><line x1="371" y1="442.58" x2="366" y2="442.58"/><line x1="45.5" y1="429.04" x2="50.5" y2="429.04"/><line x1="371" y1="429.04" x2="366" y2="429.04"/><line x1="45.5" y1="417.31" x2="50.5" y2="417.31"/><line x1="371" y1="417.31" x2="366" y2="417.31"/><line x1="45.5" y1="406.96" x2="50.5" y2="406.96"/><line x1="371" y1="406.96" x2="366" y2="406.96"/><line x1="45.5" y1="397.50" x2="53.0" y2="397.50"/><line x1="371" y1="397.50" x2="363.5" y2="397.50"/><line x1="45.5" y1="389.33" x2="50.5" y2="389.33"/><line x1="371" y1="389.33" x2="366" y2="389.33"/><line x1="45.5" y1="381.68" x2="50.5" y2="381.68"/><line x1="371" y1="381.68" x2="366" y2="381.68"/><line x1="45.5" y1="374.65" x2="50.5" y2="374.65"/><line x1="371" y1="374.65" x2="366" y2="374.65"/><line x1="45.5" y1="368.14" x2="50.5" y2="368.14"/><line x1="371" y1="368.14" x2="366" y2="368.14"/><line x1="45.5" y1="362.08" x2="50.5" y2="362.08"/><line x1="371" y1="362.08" x2="366" y2="362.08"/><line x1="45.5" y1="356.41" x2="50.5" y2="356.41"/><line x1="371" y1="356.41" x2="366" y2="356.41"/><line x1="45.5" y1="351.08" x2="50.5" y2="351.08"/><line x1="371" y1="351.08" x2="366" y2="351.08"/><line x1="45.5" y1="346.06" x2="50.5" y2="346.06"/><line x1="371" y1="346.06" x2="366" y2="346.06"/><line x1="45.5" y1="341.31" x2="50.5" y2="341.31"/><line x1="371" y1="341.31" x2="366" y2="341.31"/><line x1="45.5" y1="337.10" x2="53.0" y2="337.10"/><line x1="371" y1="337.10" x2="363.5" y2="337.10"/><line x1="45.5" y1="332.51" x2="50.5" y2="332.51"/><line x1="371" y1="332.51" x2="366" y2="332.51"/><line x1="45.5" y1="328.43" x2="50.5" y2="328.43"/><line x1="371" y1="328.43" x2="366" y2="328.43"/><line x1="45.5" y1="324.52" x2="50.5" y2="324.52"/><line x1="371" y1="324.52" x2="366" y2="324.52"/><line x1="45.5" y1="320.78" x2="50.5" y2="320.78"/><line x1="371" y1="320.78" x2="366" y2="320.78"/></g>
<g fill="#000"><text x="51.0" y="14" font-size="12.2">13000 GeV pp</text><text x="367.2" y="14" font-size="12.3" text-anchor="end">4-lepton</text><text x="74.8" y="43.2" font-size="12">Δ</text><text x="84.6" y="43.2" font-size="12">ϕ</text><text x="93.8" y="43.2" font-size="12.15">between the dilepton pairs in the H mass region.</text><text x="40" y="156.5" dy="4.2" font-size="11" text-anchor="end">10</text><text x="40" y="251.4" dy="4.2" font-size="11" text-anchor="end">1</text><text x="35.7" y="61.4" dy="5.4" font-size="11" text-anchor="end">10</text><text x="36.1" y="61.4" dy="-0.1" font-size="8.2">2</text><text x="39.3" y="336.80" dy="4.1" font-size="11.5" text-anchor="end">2</text><text x="373.2" y="336.80" dy="4.1" font-size="11.5">2</text><text x="39.3" y="397.70" dy="4.1" font-size="11.5" text-anchor="end">1</text><text x="373.2" y="397.70" dy="4.1" font-size="11.5">1</text><text x="22.0" y="458.60" dy="3.4" font-size="11.5" letter-spacing="1">0.5</text><text x="373.2" y="458.60" dy="3.4" font-size="11.5" letter-spacing="1">0.5</text><text x="51.30" y="489" font-size="11.5" text-anchor="middle">0</text><text x="152.65" y="489" font-size="11.5" text-anchor="middle">1</text><text x="251.00" y="489" font-size="11.5" text-anchor="middle">2</text><text x="350.95" y="489" font-size="11.5" text-anchor="middle">3</text><text x="353.5" y="502.7" font-size="12">Δ</text><text x="364.3" y="502.7" font-size="12">ϕ</text><text transform="translate(15.6,17) rotate(-90)" font-size="12" text-anchor="end">(fb/GeV)</text><text transform="translate(15.6,64.2) rotate(-90)" font-size="12" text-anchor="end">ϕ</text><text transform="translate(15.6,73.5) rotate(-90)" font-size="12" text-anchor="end">dσ/dΔ</text><text transform="translate(18.6,366) rotate(-90) scale(1,1.05)" font-size="9.3" text-anchor="end">Ratio to ATLAS</text><text transform="translate(380.6,17) rotate(-90) scale(1,1.09)" font-size="9.5" text-anchor="end" fill="#777">Rivet 4.1.0, ≥ 3.9M events</text><text transform="translate(380.6,166.5) rotate(-90) scale(1,1.09)" font-size="9.5" text-anchor="end" fill="#777">mcplots.cern.ch [arXiv:2401.10621]</text><text transform="translate(207.8,302.3) scale(1,1.08)" font-size="8" text-anchor="middle" fill="#aaa">(ATLAS_2021_I1849535)</text><text transform="translate(93.6,65.8) scale(1,1.07)" font-size="9.6">ATLAS</text><text transform="translate(93.6,78.89999999999999) scale(1,1.07)" font-size="9.6">Pythia 8.315 default</text><text transform="translate(93.6,91.89999999999999) scale(1,1.07)" font-size="9.6">Pythia 8.315 tune-AU2</text><text transform="translate(93.6,104.8) scale(1,1.07)" font-size="9.6">Pythia 8.315 tune-AU2lox</text><text transform="translate(93.6,117.8) scale(1,1.07)" font-size="9.6">Pythia 8.315 tune-AU2loxx</text><text transform="translate(93.6,130.7) scale(1,1.07)" font-size="9.6">Pythia 8.315 tune-AU2m</text></g>
<rect x="74" y="59.9" width="5.5" height="5.2" fill="#000"/><line x1="64" y1="75.20" x2="89" y2="75.20" stroke="#0000ff" stroke-width="1"/><path d="M73.80 77.40L76.50 72.60L79.20 77.40Z" fill="#0000ff"/><line x1="64" y1="87.90" x2="89" y2="87.90" stroke="#a0004a" stroke-width="1" stroke-dasharray="2.2 2.2"/><path d="M73.90 85.70L76.50 90.30L79.10 85.70Z" fill="#a0004a"/><line x1="64" y1="101.30" x2="89" y2="101.30" stroke="#c80050" stroke-width="1" stroke-dasharray="2.5 2 1 2"/><path d="M76.50 98.70L78.10 101.30L76.50 103.90L74.90 101.30Z" fill="none" stroke="#c80050" stroke-width="1.0"/><line x1="64" y1="114.20" x2="89" y2="114.20" stroke="#c84816" stroke-width="1" stroke-dasharray="4 1.6 1 1.6"/><rect x="74.20" y="111.90" width="4.6" height="4.6" fill="none" stroke="#c84816" stroke-width="1.2"/><line x1="64" y1="127.50" x2="89" y2="127.50" stroke="#a85c1c" stroke-width="1"/><path d="M76.50 124.70L77.21 126.53L79.16 126.63L77.64 127.87L78.15 129.77L76.50 128.70L74.85 129.77L75.36 127.87L73.84 126.63L75.79 126.53Z" fill="#a85c1c"/>
</svg></body></html>
